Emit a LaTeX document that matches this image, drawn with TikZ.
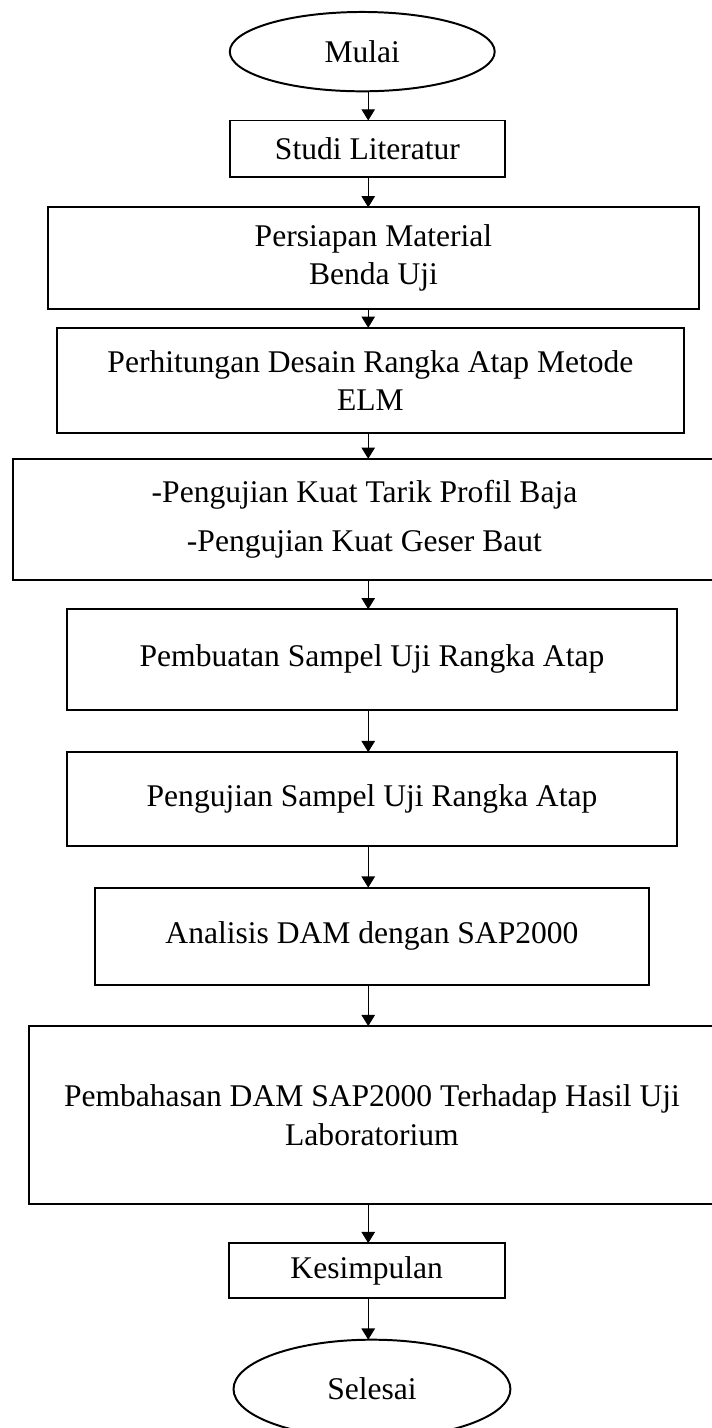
\documentclass[tikz,border=0pt]{standalone}
\usepackage{fontspec}
\setmainfont{Liberation Serif}
\usetikzlibrary{positioning,arrows.meta,shapes.geometric}

\begin{document}
\begin{tikzpicture}[
  font=\fontsize{12}{14.5}\selectfont,
  >={Triangle[length=1.5mm,width=1.8mm]},
  box/.style={draw, line width=0.75pt, align=center, inner sep=2pt, outer sep=0pt},
  term/.style={ellipse, draw, line width=0.75pt, inner sep=0pt, outer sep=0pt, minimum width=35.4mm, minimum height=10.6mm},
  flow/.style={->, line width=0.45pt}
]
\useasboundingbox (0,0) rectangle (95.1mm,-190.8mm);
\coordinate (axis) at (49.2mm,0);

\node[term] (mulai) at (48.4mm,-6.9mm) {Mulai};
\node[box, minimum width=36.7mm, minimum height=7.5mm, below=3.9mm of mulai, xshift=0.7mm] (studi) {Studi Literatur};
\node[box, minimum width=87mm, minimum height=13.6mm, below=4.1mm of studi, xshift=0.8mm] (persiapan) {Persiapan Material\\Benda Uji};
\node[box, minimum width=83.8mm, minimum height=14mm, below=2.5mm of persiapan, xshift=-0.4mm] (hitung) {Perhitungan Desain Rangka Atap Metode\\ELM};
\node[box, minimum width=93.9mm, minimum height=16.2mm, below=3.5mm of hitung, xshift=-0.8mm] (uji) {-Pengujian Kuat Tarik Profil Baja\\[4pt]-Pengujian Kuat Geser Baut};
\node[box, minimum width=81.5mm, minimum height=13.4mm, below=3.9mm of uji, xshift=1mm] (buat) {Pembuatan Sampel Uji Rangka Atap};
\node[box, minimum width=81.5mm, minimum height=12.6mm, below=5.7mm of buat] (sampel) {Pengujian Sampel Uji Rangka Atap};
\node[box, minimum width=74mm, minimum height=13mm, below=5.5mm of sampel] (analisis) {Analisis DAM dengan SAP2000};
\node[box, minimum width=91.6mm, minimum height=23.8mm, below=5.5mm of analisis] (bahas) {Pembahasan DAM SAP2000 Terhadap Hasil Uji\\Laboratorium};
\node[box, minimum width=36.9mm, minimum height=7.3mm, below=5.2mm of bahas, xshift=-0.7mm] (simpul) {Kesimpulan};
\node[term, minimum width=37mm, minimum height=13.2mm, below=5.6mm of simpul, xshift=0.7mm] (selesai) {Selesai};

\draw[flow] (mulai.south -| axis) -- (studi.north -| axis);
\draw[flow] (studi.south -| axis) -- (persiapan.north -| axis);
\draw[flow] (persiapan.south -| axis) -- (hitung.north -| axis);
\draw[flow] (hitung.south -| axis) -- (uji.north -| axis);
\draw[flow] (uji.south -| axis) -- (buat.north -| axis);
\draw[flow] (buat.south -| axis) -- (sampel.north -| axis);
\draw[flow] (sampel.south -| axis) -- (analisis.north -| axis);
\draw[flow] (analisis.south -| axis) -- (bahas.north -| axis);
\draw[flow] (bahas.south -| axis) -- (simpul.north -| axis);
\draw[flow] (simpul.south -| axis) -- (selesai.north -| axis);
\end{tikzpicture}
\end{document}
